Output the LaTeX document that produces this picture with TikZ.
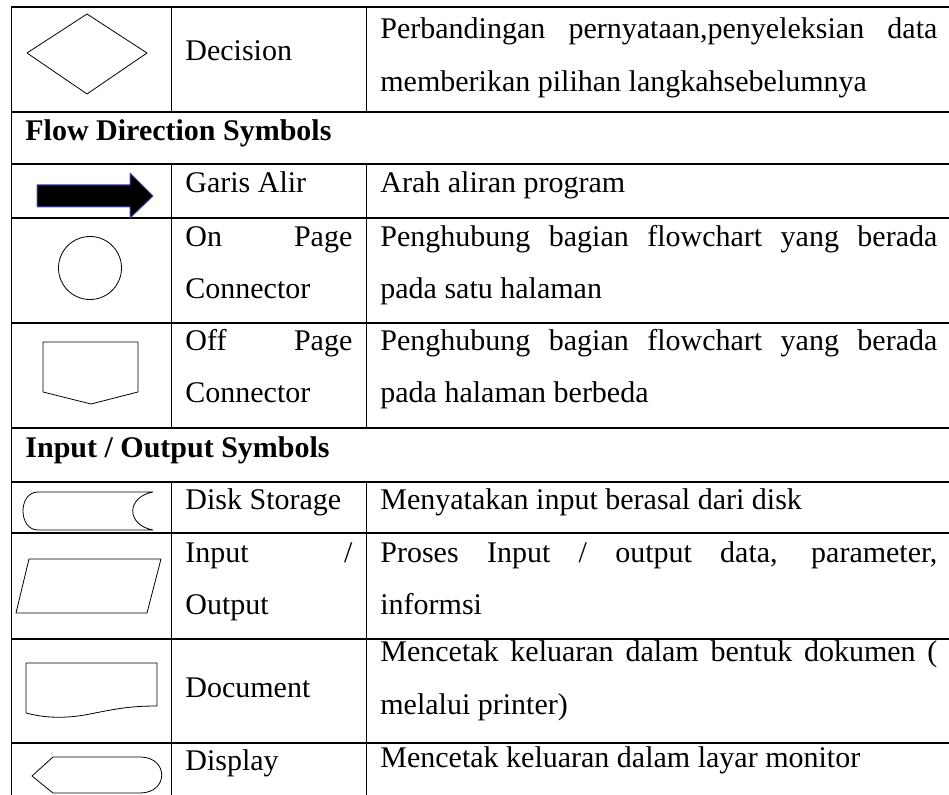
\documentclass[tikz,border=0pt]{standalone}
\usepackage{fontspec}
\setmainfont{Liberation Serif}
\newcommand{\jl}[1]{\makebox[278.5pt][s]{#1}}
\newcommand{\jk}[1]{\makebox[83.5pt][s]{#1}}
\begin{document}
\begin{tikzpicture}[x=0.5pt,y=-0.5pt,line join=round,font=\fontsize{15}{18}\selectfont,
	hline/.style={line width=0.9pt},vline/.style={line width=0.5pt},sym/.style={line width=0.4pt},
	txt/.style={anchor=base west,inner sep=0pt}]
	\useasboundingbox (0,0) rectangle (949,795);
	\draw[hline] (11,7)--(949,7) (11,112)--(949,112) (11,164)--(949,164) (11,218)--(949,218)
	(11,323)--(949,323) (11,428)--(949,428) (11,482)--(949,482) (11,533)--(949,533)
	(11,639)--(949,639) (11,743)--(949,743);
	\draw[vline] (11,7)--(11,795) (171,7)--(171,112) (366,7)--(366,112)
	(171,164)--(171,428) (366,164)--(366,428) (171,482)--(171,795) (366,482)--(366,795);
	% simbol
	\draw[sym] (27,53)--(87,14)--(147,53)--(87,94)--cycle;
	\draw[fill=black,draw=blue!45!gray,line width=0.5pt] (37,185)--(130,185)--(130,173)--(153,196)--(130,218)--(130,207)--(37,207)--cycle;
	\draw[sym] (90,268) circle (31.5);
	\draw[sym] (43,342)--(138,342)--(138,392)--(91,404)--(43,392)--cycle;
	\draw[sym] (153,492)--(38,492) .. controls (18,492) and (18,530) .. (38,530)--(153,530)
	.. controls (126,525) and (126,497) .. (153,492);
	\draw[sym] (29,559)--(161,559)--(147,613)--(16,613)--cycle;
	\draw[sym] (26,713)--(26,663)--(157,663)--(157,706) .. controls (130,706) and (115,709) .. (90,714)
	.. controls (65,719) and (45,718) .. (26,713);
	\draw[sym] (32,776)--(53,757)--(140,757) .. controls (169,757) and (169,793) .. (140,793)--(53,793)--cycle;
	% teks
	\node[txt] (dec) at (185,61) {Decision};
	\node[txt] (decA) at (380,39) {\jl{Perbandingan pernyataan,penyeleksian data}};
	\node[txt] (decB) at (380,92) {memberikan pilihan langkahsebelumnya};
	\node[txt] (flow) at (25,141) {\bfseries Flow Direction Symbols};
	\node[txt] (alir) at (185,193) {Garis Alir};
	\node[txt] (alirA) at (380,193) {Arah aliran program};
	\node[txt] (onA) at (185,247) {\jk{On Page}};
	\node[txt] (onB) at (185,299) {Connector};
	\node[txt] (onC) at (380,247) {\jl{Penghubung bagian flowchart yang berada}};
	\node[txt] (onD) at (380,299) {pada satu halaman};
	\node[txt] (offA) at (185,351) {\jk{Off Page}};
	\node[txt] (offB) at (185,403) {Connector};
	\node[txt] (offC) at (380,351) {\jl{Penghubung bagian flowchart yang berada}};
	\node[txt] (offD) at (380,403) {pada halaman berbeda};
	\node[txt] (io) at (25,458) {\bfseries Input / Output Symbols};
	\node[txt] (disk) at (185,510) {Disk Storage};
	\node[txt] (diskA) at (380,510) {Menyatakan input berasal dari disk};
	\node[txt] (inA) at (185,563) {\jk{Input /}};
	\node[txt] (inB) at (185,615) {Output};
	\node[txt] (inC) at (380,563) {\jl{Proses Input / output data, parameter,}};
	\node[txt] (inD) at (380,615) {informsi};
	\node[txt] (doc) at (185,698) {Document};
	\node[txt] (docA) at (380,662) {\jl{Mencetak keluaran dalam bentuk dokumen (}};
	\node[txt] (docB) at (380,715) {melalui printer)};
	\node[txt] (disp) at (185,771) {Display};
	\node[txt] (dispA) at (380,768) {Mencetak keluaran dalam layar monitor};
\end{tikzpicture}
\end{document}
